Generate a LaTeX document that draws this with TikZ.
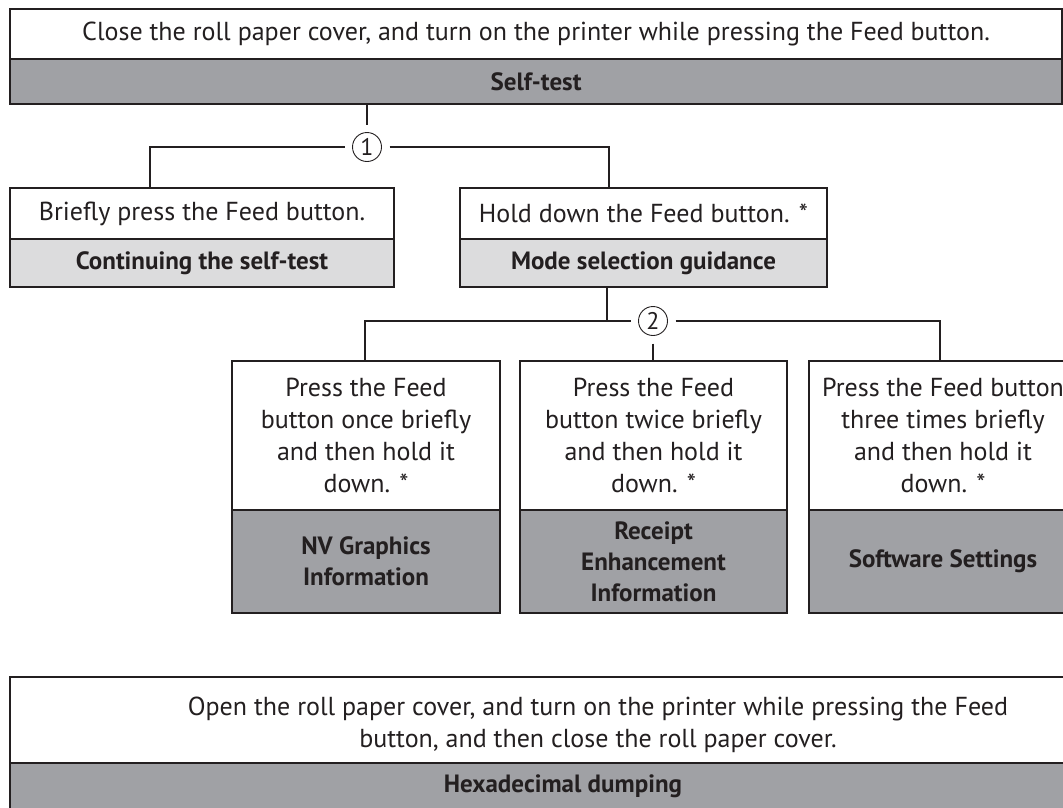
\documentclass[tikz,border=0pt]{standalone}
\usepackage{fontspec}
\setmainfont{PT Sans}
\definecolor{ink}{HTML}{231F20}
\definecolor{darkg}{HTML}{A0A1A5}
\definecolor{lightg}{HTML}{DCDCDD}
\begin{document}
\begin{tikzpicture}[x=1pt,y=-1pt,
  base/.style={draw=ink, line width=1.4pt, inner sep=0pt, align=center, text=ink},
  wbox/.style={base, fill=white, font=\fontsize{26}{32}\selectfont},
  dbox/.style={base, fill=darkg, font=\fontsize{25}{31}\selectfont\bfseries},
  lbox/.style={base, fill=lightg, font=\fontsize{25}{31}\selectfont\bfseries},
  conn/.style={draw=ink, line width=1.4pt},
  circ/.style={circle, draw=ink, line width=0.9pt, minimum size=29pt, inner sep=0pt, outer sep=8pt, text=ink, font=\fontsize{24}{24}\selectfont},
  txt/.style={inner sep=0pt, align=center, text=ink}]
\useasboundingbox (0,0) rectangle (1063,807);
\clip (0,0) rectangle (1063,807);
\fill[white] (0,0) rectangle (1063,807);
% top box
\node[wbox, minimum width=1052pt, minimum height=50pt] (topw) at (536,34) {Close the roll paper cover, and turn on the printer while pressing the Feed button.};
\node[dbox, minimum width=1052pt, minimum height=45pt] (topg) at (536,81.5) {Self-test};
% level 1
\node[wbox, minimum width=384pt, minimum height=51pt] (aw) at (202,213.5) {Briefly press the Feed button.};
\node[lbox, minimum width=384pt, minimum height=48pt] (ag) at (202,263) {Continuing the self-test};
\node[wbox, minimum width=367pt, minimum height=51pt] (bw) at (643.5,213.5) {Hold down the Feed button. *};
\node[lbox, minimum width=367pt, minimum height=48pt] (bg) at (643.5,263) {Mode selection guidance};
\node[circ] (c1) at (367,147) {1};
% level 2
\node[wbox, minimum width=268pt, minimum height=149pt] (c1w) at (366,435.5) {Press the Feed\\button once briefly\\and then hold it\\down. *};
\node[dbox, minimum width=268pt, minimum height=103pt] (c1g) at (366,561.5) {NV Graphics\\Information};
\node[wbox, minimum width=267pt, minimum height=149pt] (c2w) at (653.5,435.5) {Press the Feed\\button twice briefly\\and then hold it\\down. *};
\node[dbox, minimum width=267pt, minimum height=103pt] (c2g) at (653.5,561.5) {Receipt\\Enhancement\\Information};
\node[wbox, minimum width=268pt, minimum height=149pt] (c3w) at (943,435.5) {Press the Feed button\\three times briefly\\and then hold it\\down. *};
\node[dbox, minimum width=268pt, minimum height=103pt] (c3g) at (943,561.5) {Software Settings};
\node[circ] (c2) at (653,321) {2};
% bottom box
\node[wbox, minimum width=1120pt, minimum height=86pt] (hw) at (570,720) {};
\node[dbox, minimum width=1120pt, minimum height=87pt] (hg) at (570,806.5) {};
\node[txt, font=\fontsize{26}{32}\selectfont] (ht) at (598,725) {Open the roll paper cover, and turn on the printer while pressing the Feed\\button, and then close the roll paper cover.};
\node[txt, font=\fontsize{25}{26}\selectfont\bfseries] (hx) at (563,786) {Hexadecimal dumping};
% connectors
\coordinate (a1) at (150,147);
\coordinate (b1) at (609,147);
\coordinate (m2) at (607,321);
\coordinate (l2) at (365,321);
\coordinate (r2) at (940,321);
\draw[conn] (topg.south -| c1) -- (c1.north);
\draw[conn] (c1.west) -- (a1) -- (a1 |- aw.north);
\draw[conn] (c1.east) -- (b1) -- (b1 |- bw.north);
\draw[conn] (bg.south -| m2) -- (m2);
\draw[conn] (c2.west) -- (l2) -- (l2 |- c1w.north);
\draw[conn] (c2.east) -- (r2) -- (r2 |- c3w.north);
\draw[conn] (c2.south) -- (c2.south |- c2w.north);
\end{tikzpicture}
\end{document}
